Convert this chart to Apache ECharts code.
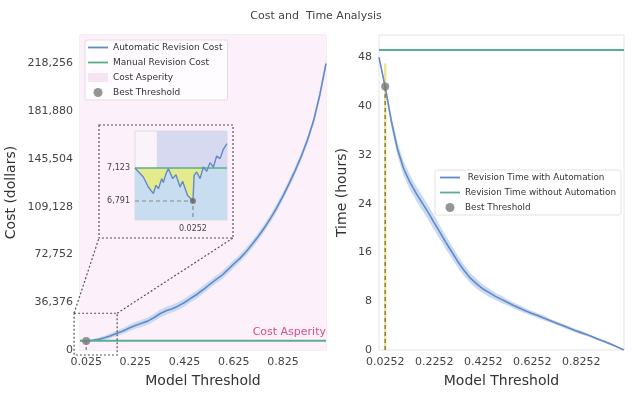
<!DOCTYPE html>
<html>
<head>
<meta charset="utf-8">
<script src="https://cdn.jsdelivr.net/npm/echarts@6/dist/echarts.min.js"></script>
<style>
  html, body { margin: 0; padding: 0; background: #fff; }
  #chart { width: 632px; height: 397px; }
</style>
</head>
<body>
<div id="chart"></div>
<script>
// model thresholds shared by both panels
const thresholds = [0, 0.025, 0.05, 0.075, 0.1, 0.125, 0.15, 0.175, 0.2, 0.225, 0.25, 0.275, 0.3, 0.325,
  0.35, 0.375, 0.4, 0.425, 0.45, 0.475, 0.5, 0.525, 0.55, 0.575, 0.6, 0.625, 0.65, 0.675, 0.7, 0.725,
  0.75, 0.775, 0.8, 0.825, 0.85, 0.875, 0.9, 0.925, 0.95, 0.975, 1];

// automatic revision cost (dollars) and its band half-width
const costValues = [7123, 6791, 7400, 8100, 9300, 10900, 12700, 14500, 16800, 18700, 20300, 22000, 24600, 27600,
  29900, 31500, 33600, 36200, 39400, 42300, 45900, 49600, 53200, 56600, 61000, 65500, 69800, 74800, 80500, 86600,
  93200, 100500, 108400, 117200, 126800, 136900, 147800, 160200, 175000, 194500, 218256];
const costSpread = [300, 400, 900, 1300, 1600, 1900, 2100, 2300, 2500, 2600, 2700, 2800, 2900, 3000,
  3000, 3000, 3000, 3000, 3000, 3000, 3000, 3000, 3000, 3000, 3000, 3000, 3000, 3000, 3000, 3000,
  3000, 3000, 3000, 3000, 3000, 3000, 3000, 3000, 3000, 3000, 3000];

// revision time with automation (hours) and its band half-width
const timeValues = [48, 43.2, 37.6, 33, 29.8, 27.6, 25.8, 24.2, 22.6, 20.9, 19.2, 17.5, 15.9, 14.3,
  12.9, 11.7, 10.8, 10, 9.4, 8.8, 8.3, 7.8, 7.3, 6.85, 6.4, 6, 5.6, 5.2, 4.8, 4.4,
  4, 3.6, 3.2, 2.85, 2.5, 2.1, 1.7, 1.3, 0.9, 0.45, 0];
const timeSpread = [0.3, 0.6, 0.9, 1.1, 1.2, 1.2, 1.2, 1.2, 1.2, 1.2, 1.1, 1.1, 1, 1,
  0.9, 0.8, 0.8, 0.7, 0.7, 0.6, 0.6, 0.5, 0.5, 0.5, 0.4, 0.4, 0.4, 0.4, 0.3, 0.3,
  0.3, 0.3, 0.3, 0.3, 0.2, 0.2, 0.2, 0.2, 0.2, 0.1, 0];

// zoomed view around the best threshold
const zoomThresholds = [0, 0.0036, 0.0058, 0.008, 0.0091, 0.0102, 0.0116, 0.0123, 0.0135, 0.0145,
  0.0164, 0.0178, 0.0196, 0.0207, 0.0228, 0.0252, 0.0257, 0.0268, 0.0283, 0.0297, 0.0312, 0.0326,
  0.0341, 0.0355, 0.037, 0.0384, 0.04];
const zoomCosts = [7123, 7032, 6932, 6865, 6949, 6915, 7016, 6976, 7066, 7116,
  7016, 7056, 6932, 6989, 6848, 6791, 7049, 7083, 7016, 7133, 7089, 7177,
  7133, 7244, 7217, 7311, 7368];

const manualCost = 7123;
const manualTime = 49.2;
const bestThreshold = 0.0252;
const bestCost = 6791;
const bestTime = 43.2;

const costTicks = [0, 36376, 72752, 109128, 145504, 181880, 218256];
const timeTicks = [0, 8, 16, 24, 32, 40, 48];
const costThresholdTicks = [0.025, 0.225, 0.425, 0.625, 0.825];
const timeThresholdTicks = [0.0252, 0.2252, 0.4252, 0.6252, 0.8252];
const zoomCostTicks = [6791, 7123];
const zoomThresholdTicks = [0.0252];

const costMax = 240000;
const timeMax = 51.66;
const zoomRange = [6600, 7495];
const zoomXMax = 0.04;
const bandEdge = 0.0095;
const zoomArea = { x: [-0.024, 0.151], y: [-3800, 28000] };

const BLUE = '#6289c9';
const BAND = '#c9daf1';
const GREEN = '#5aae8e';
const GREY = '#7a7a7a';
const FONT = 'DejaVu Sans';
const LINE_ICON = 'path://M0,0 L20,0 L20,1.8 L0,1.8 Z';

const pair = (xs, ys) => xs.map((x, i) => [x, ys[i]]);
const fmt = v => Math.round(v).toLocaleString('en-US');

const costLow = costValues.map((v, i) => v - costSpread[i]);
const costHigh = costValues.map((v, i) => v + costSpread[i]);
const timeLow = timeValues.map((v, i) => v - timeSpread[i]);
const timeHigh = timeValues.map((v, i) => v + timeSpread[i]);
const zoomBelow = zoomCosts.map(v => Math.min(v, manualCost));
const zoomManual = zoomCosts.map(() => manualCost);

const inset = { left: 135, top: 131, width: 92, height: 89 };

// filled polygon between two curves, drawn through the axes of one grid
function band(xIdx, yIdx, xs, lows, highs, color, z) {
  return {
    type: 'custom', xAxisIndex: xIdx, yAxisIndex: yIdx, z: z, silent: true,
    data: [0],
    renderItem: (params, api) => {
      const top = xs.map((x, i) => api.coord([x, highs[i]]));
      const bottom = xs.map((x, i) => api.coord([x, lows[i]])).reverse();
      const cs = params.coordSys;
      return {
        type: 'polygon', shape: { points: top.concat(bottom) }, style: { fill: color },
        clipPath: { type: 'rect', shape: { x: cs.x, y: cs.y, width: cs.width, height: cs.height } }
      };
    }
  };
}

function valueAxis(grid, min, max, ticks, formatter, extra) {
  return Object.assign({
    type: 'value', gridIndex: grid, min: min, max: max,
    axisLine: { show: false }, axisTick: { show: false }, splitLine: { show: false },
    axisLabel: { customValues: ticks, formatter: formatter, color: '#444', fontSize: 11, fontFamily: FONT, margin: 7 },
    nameTextStyle: { color: '#333', fontSize: 14, fontFamily: FONT }
  }, extra || {});
}

const chart = echarts.init(document.getElementById('chart'));

const option = {
  animation: false,
  textStyle: { fontFamily: FONT },
  title: {
    text: 'Cost and  Time Analysis', left: 'center', top: 6,
    textStyle: { fontSize: 11, fontWeight: 'normal', color: '#444', fontFamily: FONT }
  },
  legend: [
    {
      orient: 'vertical', left: 85, top: 40, padding: [3, 5, 3, 3], itemGap: 6,
      itemWidth: 20, itemHeight: 9,
      backgroundColor: 'rgba(255,255,255,0.75)', borderColor: '#e2dce2', borderWidth: 1, borderRadius: 2,
      textStyle: { fontSize: 9, color: '#333', fontFamily: FONT },
      data: [
        { name: 'Automatic Revision Cost', icon: LINE_ICON },
        { name: 'Manual Revision Cost', icon: LINE_ICON },
        { name: 'Cost Asperity', icon: 'rect' },
        { name: 'Best Threshold', icon: 'circle' }
      ]
    },
    {
      orient: 'vertical', left: 435, top: 170, padding: [3, 5, 3, 5], itemGap: 6,
      itemWidth: 20, itemHeight: 9,
      backgroundColor: '#fff', borderColor: '#e2e2e2', borderWidth: 1, borderRadius: 2,
      textStyle: { fontSize: 8.8, color: '#333', fontFamily: FONT },
      data: [
        { name: ' Revision Time with Automation', icon: LINE_ICON },
        { name: 'Revision Time without Automation', icon: LINE_ICON },
        { name: 'Best Threshold', icon: 'circle' }
      ]
    }
  ],
  grid: [
    { left: 80, top: 35, width: 246, height: 315, show: true, backgroundColor: '#fff', borderColor: '#e6e0e6', borderWidth: 1 },
    { left: 379, top: 35, width: 245, height: 315, show: true, backgroundColor: '#fff', borderColor: '#e4e4e4', borderWidth: 1 },
    { left: inset.left, top: inset.top, width: inset.width, height: inset.height, show: true,
      backgroundColor: '#faf3f9', borderColor: '#dcdcdc', borderWidth: 1, z: 10 }
  ],
  xAxis: [
    valueAxis(0, 0, 1, costThresholdTicks, v => v.toFixed(3),
      { name: 'Model Threshold', nameLocation: 'middle', nameGap: 24 }),
    valueAxis(1, 0, 1, timeThresholdTicks, v => v.toFixed(4),
      { name: 'Model Threshold', nameLocation: 'middle', nameGap: 24 }),
    valueAxis(2, 0, zoomXMax, zoomThresholdTicks, v => v.toFixed(4),
      { z: 10, axisLabel: { customValues: zoomThresholdTicks, formatter: v => v.toFixed(4), color: '#444', fontSize: 8, fontFamily: FONT, margin: 5 } })
  ],
  yAxis: [
    valueAxis(0, 0, costMax, costTicks, fmt,
      { name: 'Cost (dollars)', nameLocation: 'middle', nameGap: 62 }),
    valueAxis(1, 0, timeMax, timeTicks, v => String(v),
      { name: 'Time (hours)', nameLocation: 'middle', nameGap: 30 }),
    valueAxis(2, zoomRange[0], zoomRange[1], zoomCostTicks, fmt,
      { z: 10, axisLabel: { customValues: zoomCostTicks, formatter: fmt, color: '#444', fontSize: 8, fontFamily: FONT, margin: 5 } })
  ],
  series: [
    // ---- left panel: cost ----
    {
      name: 'Cost Asperity', type: 'line', xAxisIndex: 0, yAxisIndex: 0, data: [],
      itemStyle: { color: '#f6e4f2' }, lineStyle: { width: 0 },
      markArea: {
        silent: true, itemStyle: { color: '#fcf1fa' },
        data: [[{ xAxis: 0, yAxis: 0 }, { xAxis: 1, yAxis: costMax }]]
      }
    },
    band(0, 0, thresholds, costLow, costHigh, BAND, 2),
    {
      name: 'Automatic Revision Cost', type: 'line', xAxisIndex: 0, yAxisIndex: 0,
      data: pair(thresholds, costValues), symbol: 'none', z: 3,
      itemStyle: { color: BLUE }, lineStyle: { color: BLUE, width: 1.6 }
    },
    {
      name: 'Manual Revision Cost', type: 'line', xAxisIndex: 0, yAxisIndex: 0,
      data: [[0, manualCost], [1, manualCost]], symbol: 'none', z: 3,
      itemStyle: { color: GREEN }, lineStyle: { color: GREEN, width: 2 },
      markLine: {
        silent: true, symbol: 'none', lineStyle: { color: 'rgba(0,0,0,0)' },
        label: { position: 'insideEndTop', formatter: 'Cost Asperity', color: '#d4507f', fontSize: 11, fontFamily: FONT, distance: [0, 3] },
        data: [{ yAxis: manualCost }]
      }
    },
    {
      name: 'bestCostDrop', type: 'line', xAxisIndex: 0, yAxisIndex: 0,
      data: [[bestThreshold, 0], [bestThreshold, bestCost]], symbol: 'none', z: 4,
      lineStyle: { color: GREY, width: 1.2, type: [3, 2] }
    },
    {
      name: 'Best Threshold', type: 'scatter', xAxisIndex: 0, yAxisIndex: 0,
      data: [[bestThreshold, bestCost]], symbolSize: 8, itemStyle: { color: GREY }, z: 5
    },
    // ---- inset ----
    band(2, 2, [0, zoomXMax], [zoomRange[0], zoomRange[0]], [manualCost, manualCost], '#c9ddf0', 11),
    band(2, 2, [bandEdge, zoomXMax], [manualCost, manualCost], [zoomRange[1], zoomRange[1]], '#d6d9ef', 11),
    band(2, 2, zoomThresholds, zoomBelow, zoomManual, '#e4ea8e', 12),
    {
      name: 'zoomManual', type: 'line', xAxisIndex: 2, yAxisIndex: 2, z: 13,
      data: [[0, manualCost], [zoomXMax, manualCost]], symbol: 'none',
      lineStyle: { color: GREEN, width: 1.6 }
    },
    {
      name: 'zoomCost', type: 'line', xAxisIndex: 2, yAxisIndex: 2, z: 13,
      data: pair(zoomThresholds, zoomCosts), symbol: 'none',
      lineStyle: { color: BLUE, width: 1.4 }
    },
    {
      name: 'zoomGuides', type: 'line', xAxisIndex: 2, yAxisIndex: 2, z: 13,
      data: [[0, bestCost], [bestThreshold, bestCost], [bestThreshold, zoomRange[0]]], symbol: 'none',
      lineStyle: { color: '#888', width: 1.2, type: [4, 3] }
    },
    {
      name: 'zoomBest', type: 'scatter', xAxisIndex: 2, yAxisIndex: 2, z: 14,
      data: [[bestThreshold, bestCost]], symbolSize: 6, itemStyle: { color: '#666' }
    },
    // ---- right panel: time ----
    band(1, 1, thresholds, timeLow, timeHigh, BAND, 2),
    {
      name: 'bestTimeMarker', type: 'line', xAxisIndex: 1, yAxisIndex: 1,
      data: [[bestThreshold, 0], [bestThreshold, 47]], symbol: 'none', z: 3,
      lineStyle: { color: '#efe58c', width: 2.5 }
    },
    {
      name: 'bestTimeDrop', type: 'line', xAxisIndex: 1, yAxisIndex: 1,
      data: [[bestThreshold, 0], [bestThreshold, bestTime]], symbol: 'none', z: 4,
      lineStyle: { color: '#6f6f52', width: 1.3, type: [4, 3] }
    },
    {
      name: ' Revision Time with Automation', type: 'line', xAxisIndex: 1, yAxisIndex: 1,
      data: pair(thresholds, timeValues), symbol: 'none', z: 3,
      itemStyle: { color: BLUE }, lineStyle: { color: BLUE, width: 1.6 }
    },
    {
      name: 'Revision Time without Automation', type: 'line', xAxisIndex: 1, yAxisIndex: 1,
      data: [[0, manualTime], [1, manualTime]], symbol: 'none', z: 3,
      itemStyle: { color: GREEN }, lineStyle: { color: GREEN, width: 2 }
    },
    {
      name: 'Best Threshold', type: 'scatter', xAxisIndex: 1, yAxisIndex: 1,
      data: [[bestThreshold, bestTime]], symbolSize: 8, itemStyle: { color: GREY }, z: 5
    }
  ]
};

chart.setOption(option);

// dotted zoom indicator: small box on the main axes, linked to the inset frame
const a = chart.convertToPixel({ xAxisIndex: 0, yAxisIndex: 0 }, [zoomArea.x[0], zoomArea.y[1]]);
const b = chart.convertToPixel({ xAxisIndex: 0, yAxisIndex: 0 }, [zoomArea.x[1], zoomArea.y[0]]);
const frame = {
  x0: inset.left - 36, y0: inset.top - 6,
  x1: inset.left + inset.width + 6, y1: inset.top + inset.height + 18
};
const dotted = { fill: null, stroke: '#555', lineWidth: 1.2, lineDash: [2, 2] };
chart.setOption({
  graphic: [
    { type: 'rect', z: 20, shape: { x: a[0], y: a[1], width: b[0] - a[0], height: b[1] - a[1] }, style: dotted },
    { type: 'rect', z: 20, shape: { x: frame.x0, y: frame.y0, width: frame.x1 - frame.x0, height: frame.y1 - frame.y0 }, style: dotted },
    { type: 'line', z: 20, shape: { x1: a[0], y1: a[1], x2: frame.x0, y2: frame.y1 }, style: dotted },
    { type: 'line', z: 20, shape: { x1: b[0], y1: a[1], x2: frame.x1, y2: frame.y1 }, style: dotted }
  ]
});
</script>
</body>
</html>
